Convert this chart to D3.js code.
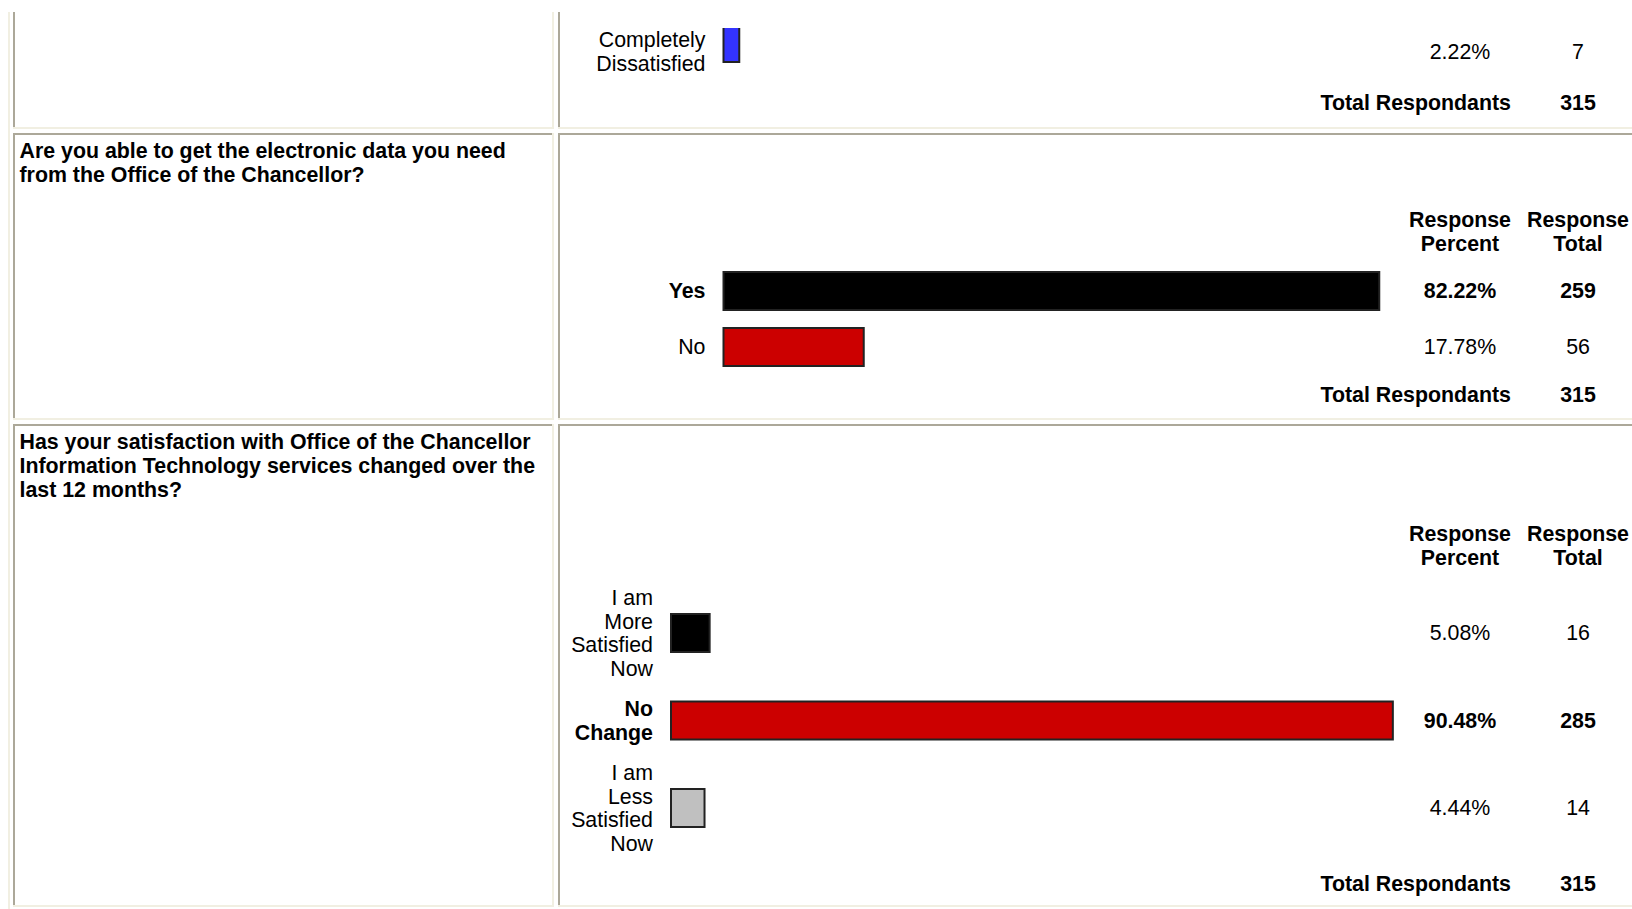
<!DOCTYPE html>
<html>
<head>
<meta charset="utf-8">
<script src="https://cdn.jsdelivr.net/npm/d3@7"></script>
<style>
  body { margin: 0; background: #fff; }
  svg { display: block; }
  text { font-family: "Liberation Sans", Arial, sans-serif; font-size: 21.35px; fill: #000; }
</style>
</head>
<body>
<div id="chart"></div>
<script>
// ---- Data ----
// Question 1 is scrolled off the top: only its last option is visible
const q1Options = ["Completely Dissatisfied"];
const q1Percent = [2.22];
const q1Count = [7];
const q1Total = 315;

const q2Question = ["Are you able to get the electronic data you need", "from the Office of the Chancellor?"];
const q2Options = ["Yes", "No"];
const q2Percent = [82.22, 17.78];
const q2Count = [259, 56];
const q2Total = 315;

const q3Question = ["Has your satisfaction with Office of the Chancellor", "Information Technology services changed over the", "last 12 months?"];
const q3Options = ["I am More Satisfied Now", "No Change", "I am Less Satisfied Now"];
const q3Percent = [5.08, 90.48, 4.44];
const q3Count = [16, 285, 14];
const q3Total = 315;

const headerPercent = ["Response", "Percent"];
const headerTotal = ["Response", "Total"];
const totalLabel = "Total Respondants";

// ---- Layout / style ----
const W = 1632, H = 909;
const GRAY = '#aca899', LIGHT = '#f1efe2';
const LINE_H = 23.8;
const PCT_X = 1460, CNT_X = 1578, TOTAL_LABEL_X = 1511;

const questions = [
    { lines: null, options: q1Options, percent: q1Percent, count: q1Count, total: q1Total,
      colors: ['#3333ff'], rowRange: [51.5, 51.5], headerY: null, totalY: 103,
      barX: 722.5, barShift: -8.5, labelW: 150, clipTop: 28, textY: null, boldMax: false },
    { lines: q2Question, options: q2Options, percent: q2Percent, count: q2Count, total: q2Total,
      colors: ['#000000', '#cc0000'], rowRange: [291, 347], headerY: 220, totalY: 394.5,
      barX: 722.5, barShift: 0, labelW: 150, clipTop: null, textY: 151, boldMax: true },
    { lines: q3Question, options: q3Options, percent: q3Percent, count: q3Count, total: q3Total,
      colors: ['#000000', '#cc0000', '#c0c0c0'], rowRange: [633, 808], headerY: 534, totalY: 883.6,
      barX: 670, barShift: 0, labelW: 86, clipTop: null, textY: 442, boldMax: true }
];

const svg = d3.select('#chart').append('svg')
    .attr('width', W)
    .attr('height', H)
    .attr('viewBox', [0, 0, W, H]);

// bar length: 8px per percent point
const x = d3.scaleLinear().domain([0, 100]).range([0, 800]);
const fmtPct = d => d3.format('.2f')(d) + '%';

// ---- Table borders (inset cells inside an outset table) ----
const rowsBox = [{ top: null, bottom: 127 }, { top: 133, bottom: 418 }, { top: 424, bottom: 905 }];
const colsBox = [{ left: 13, right: 552 }, { left: 558, right: null }];
const borders = svg.append('g').attr('class', 'borders');

borders.append('rect').attr('x', 8).attr('y', 12).attr('width', 2).attr('height', H - 12).attr('fill', LIGHT);

rowsBox.forEach(r => colsBox.forEach(c => {
    const top = r.top == null ? 12 : r.top;
    const right = c.right == null ? W + 10 : c.right;
    if (r.top != null) {
        borders.append('rect').attr('x', c.left).attr('y', top)
            .attr('width', right - c.left).attr('height', 2).attr('fill', GRAY);
    }
    borders.append('rect').attr('x', c.left).attr('y', top)
        .attr('width', 2).attr('height', r.bottom - top).attr('fill', GRAY);
    borders.append('rect').attr('x', c.left).attr('y', r.bottom)
        .attr('width', right + 2 - c.left).attr('height', 2).attr('fill', LIGHT);
    if (c.right != null) {
        borders.append('rect').attr('x', c.right).attr('y', top)
            .attr('width', 2).attr('height', r.bottom + 2 - top).attr('fill', LIGHT);
    }
}));

// word wrap helper for option labels
function wrapWords(textSel, str, maxW) {
    const words = str.split(' ');
    const lines = [];
    let cur = '';
    const probe = textSel.append('tspan');
    words.forEach(w => {
        const test = cur ? cur + ' ' + w : w;
        probe.text(test);
        if (probe.node().getComputedTextLength() > maxW && cur) {
            lines.push(cur);
            cur = w;
        } else {
            cur = test;
        }
    });
    if (cur) lines.push(cur);
    probe.remove();
    return lines;
}

// ---- Questions ----
questions.forEach((q, qi) => {
    const g = svg.append('g').attr('class', 'question q' + (qi + 1));
    const maxIdx = q.boldMax ? d3.maxIndex(q.percent) : -1;
    const y = d3.scalePoint().domain(q.options).range(q.rowRange);

    // question text (left cell)
    if (q.lines) {
        g.append('g').selectAll('text')
            .data(q.lines)
            .join('text')
            .attr('x', 19.5)
            .attr('y', (d, i) => q.textY + i * LINE_H)
            .attr('dy', '0.35em')
            .style('font-weight', 'bold')
            .text(d => d);
    }

    // column headers
    if (q.headerY != null) {
        [[PCT_X, headerPercent], [CNT_X, headerTotal]].forEach(([cx, hdr]) => {
            g.append('g').selectAll('text')
                .data(hdr)
                .join('text')
                .attr('x', cx)
                .attr('y', (d, i) => q.headerY + i * LINE_H)
                .attr('dy', '0.35em')
                .attr('text-anchor', 'middle')
                .style('font-weight', 'bold')
                .text(d => d);
        });
    }

    // clip (first question's bar is cut at the top of the page)
    let clipId = null;
    if (q.clipTop != null) {
        clipId = 'clip' + qi;
        svg.append('defs').append('clipPath').attr('id', clipId)
            .append('rect').attr('x', 0).attr('y', q.clipTop).attr('width', W).attr('height', H);
    }

    const rows = g.selectAll('g.opt')
        .data(q.options.map((o, i) => ({ label: o, pct: q.percent[i], cnt: q.count[i], color: q.colors[i], i })))
        .join('g')
        .attr('class', 'opt');

    // bars
    rows.append('rect')
        .attr('x', q.barX + 1)
        .attr('y', d => y(d.label) + q.barShift - 20 + 1)
        .attr('width', d => Math.max(0, x(d.pct) - 2))
        .attr('height', 38)
        .attr('fill', d => d.color)
        .attr('stroke', '#222')
        .attr('stroke-width', 2)
        .attr('clip-path', clipId ? `url(#${clipId})` : null);

    // option labels (right aligned, wrapped, centered on the row)
    rows.each(function (d) {
        const t = d3.select(this).append('text')
            .attr('text-anchor', 'end')
            .style('font-weight', d.i === maxIdx ? 'bold' : 'normal');
        const lines = wrapWords(t, d.label, q.labelW);
        const y0 = y(d.label) - (lines.length - 1) * LINE_H / 2;
        t.selectAll('tspan')
            .data(lines)
            .join('tspan')
            .attr('x', q.barX - 17)
            .attr('y', (l, k) => y0 + k * LINE_H)
            .attr('dy', '0.35em')
            .text(l => l);
    });

    // percent and count columns
    rows.append('text')
        .attr('x', PCT_X)
        .attr('y', d => y(d.label))
        .attr('dy', '0.35em')
        .attr('text-anchor', 'middle')
        .style('font-weight', d => d.i === maxIdx ? 'bold' : 'normal')
        .text(d => fmtPct(d.pct));

    rows.append('text')
        .attr('x', CNT_X)
        .attr('y', d => y(d.label))
        .attr('dy', '0.35em')
        .attr('text-anchor', 'middle')
        .style('font-weight', d => d.i === maxIdx ? 'bold' : 'normal')
        .text(d => d.cnt);

    // total respondents
    g.append('text')
        .attr('x', TOTAL_LABEL_X)
        .attr('y', q.totalY)
        .attr('dy', '0.35em')
        .attr('text-anchor', 'end')
        .style('font-weight', 'bold')
        .text(totalLabel);

    g.append('text')
        .attr('x', CNT_X)
        .attr('y', q.totalY)
        .attr('dy', '0.35em')
        .attr('text-anchor', 'middle')
        .style('font-weight', 'bold')
        .text(q.total);
});
</script>
</body>
</html>
